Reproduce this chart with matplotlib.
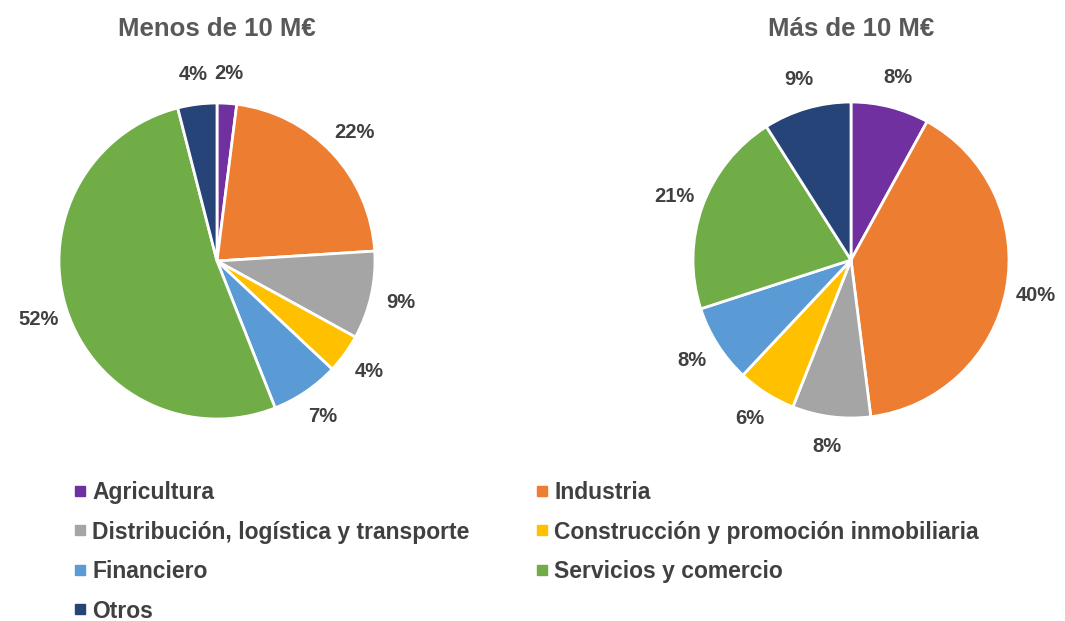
import matplotlib.pyplot as plt
from matplotlib.lines import Line2D

plt.rcParams['font.family'] = ['Liberation Sans', 'DejaVu Sans']

sectores = ['Agricultura', 'Industria', 'Distribución, logística y transporte',
            'Construcción y promoción inmobiliaria', 'Financiero',
            'Servicios y comercio', 'Otros']
menos_10 = [2, 22, 9, 4, 7, 52, 4]
mas_10 = [8, 40, 8, 6, 8, 21, 9]
titulos = ['Menos de 10 M€', 'Más de 10 M€']
colores = ['#7030A0', '#ED7D31', '#A5A5A5', '#FFC000', '#5B9BD5', '#70AD47', '#264478']

W, H = 1065, 621
fig = plt.figure(figsize=(W / 100, H / 100), dpi=100)

R = 158
centros = [(217, 261), (851, 260)]
for (cx, cy), valores, titulo in zip(centros, [menos_10, mas_10], titulos):
    ax = fig.add_axes([(cx - R) / W, (H - cy - R) / H, 2 * R / W, 2 * R / H])
    ax.pie(valores, colors=colores, startangle=90, counterclock=False,
           autopct=lambda p: f'{p:.0f}%', pctdistance=1.19,
           wedgeprops=dict(edgecolor='white', linewidth=2),
           textprops=dict(fontsize=14.5, fontweight='bold', color='#404040'))
    ax.set_xlim(-1, 1)
    ax.set_ylim(-1, 1)
    ax.set_aspect('equal')
    fig.text(cx / W, 1 - 29 / H, titulo, ha='center', va='center',
             fontsize=18.5, fontweight='bold', color='#595959')

orden = [0, 2, 4, 6, 1, 3, 5]
handles = [Line2D([], [], marker='s', linestyle='none', markersize=6.5,
                  markerfacecolor=colores[i], markeredgecolor=colores[i]) for i in orden]
labels = [sectores[i] for i in orden]
leg = fig.legend(handles, labels, loc='upper left', bbox_to_anchor=(74 / W, 1 - 481 / H),
                 ncol=2, frameon=False, fontsize=16.5, handlelength=0.5,
                 handletextpad=0.3, columnspacing=2.9, labelspacing=0.72,
                 borderaxespad=0, borderpad=0)
for t in leg.get_texts():
    t.set_color('#404040')
    t.set_fontweight('bold')

fig.savefig('out.png', dpi=100, facecolor='white')
